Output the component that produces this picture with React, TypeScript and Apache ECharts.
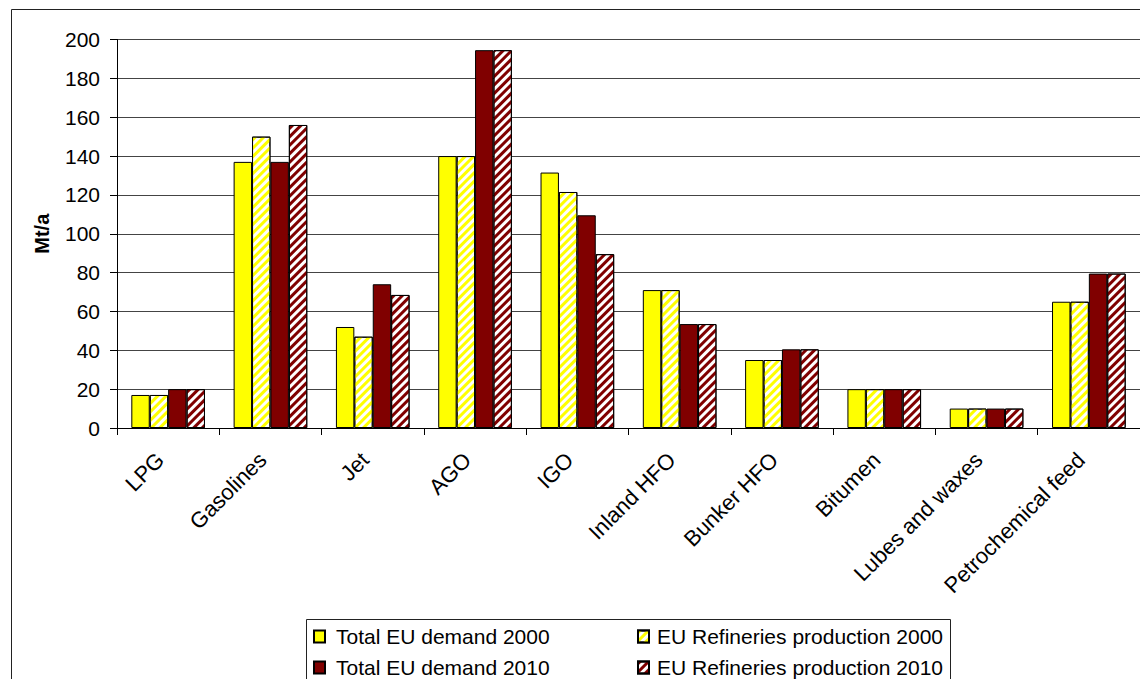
import React, { useEffect, useRef } from "react";
import * as echarts from "echarts";

// Products on the category axis
const categories = [
  "LPG",
  "Gasolines",
  "Jet",
  "AGO",
  "IGO",
  "Inland HFO",
  "Bunker HFO",
  "Bitumen",
  "Lubes and waxes",
  "Petrochemical feed",
];

// Volumes in Mt/a
const demand2000 = [17, 137, 52, 140, 131.5, 71, 35, 20, 10, 65];
const production2000 = [17, 150, 47, 140, 121.5, 71, 35, 20, 10, 65];
const demand2010 = [20, 137, 74, 194.5, 109.5, 53.5, 40.5, 20, 10, 79.5];
const production2010 = [20, 156, 68.5, 194.5, 89.5, 53.5, 40.5, 20, 10, 79.5];

const seriesNames = [
  "Total EU demand 2000",
  "EU Refineries production 2000",
  "Total EU demand 2010",
  "EU Refineries production 2010",
];

const YELLOW = "#FFFF00";
const MAROON = "#800000";
const FONT = "'Liberation Sans', Arial, sans-serif";

// Upward diagonal hatching on a white ground
const stripes = (color: string) => ({
  symbol: "rect",
  symbolSize: 1,
  color,
  backgroundColor: "#ffffff",
  dashArrayX: [1, 0],
  dashArrayY: [3, 3],
  rotation: -Math.PI / 4,
});

export default function App() {
  const ref = useRef<HTMLDivElement>(null);

  useEffect(() => {
    if (!ref.current) return;
    const chart = echarts.init(ref.current, undefined, { renderer: "svg" });

    const bar = (name: string, data: number[], color: string, striped: boolean) => ({
      name,
      type: "bar",
      data,
      barGap: "0%",
      barCategoryGap: "28%",
      itemStyle: {
        color: striped ? "#ffffff" : color,
        borderColor: "#000000",
        borderWidth: 1,
        ...(striped ? { decal: stripes(color) } : {}),
      },
    });

    const legendBase = {
      orient: "vertical",
      icon: "rect",
      padding: 0,
      itemWidth: 11,
      itemHeight: 12,
      itemGap: 10,
      top: 626,
      height: 80,
      textStyle: { fontFamily: FONT, fontSize: 21, color: "#000" },
    };

    chart.setOption({
      animation: false,
      backgroundColor: "#ffffff",
      grid: { left: 117, top: 39.5, width: 1027, height: 388.5, containLabel: false },
      xAxis: {
        type: "category",
        data: categories,
        axisLine: { lineStyle: { color: "#000", width: 1 } },
        axisTick: { show: true, length: 7, lineStyle: { color: "#000" } },
        axisLabel: {
          interval: 0,
          rotate: 45,
          margin: 36,
          verticalAlign: "bottom",
          fontFamily: FONT,
          fontSize: 22,
          color: "#000",
        },
      },
      yAxis: {
        type: "value",
        min: 0,
        max: 200,
        interval: 20,
        name: "Mt/a",
        nameLocation: "middle",
        nameRotate: 90,
        nameGap: 65,
        nameTextStyle: { fontFamily: FONT, fontSize: 20, fontWeight: "bold", color: "#000" },
        axisLine: { show: true, lineStyle: { color: "#000", width: 1 } },
        axisTick: { show: true, length: 7, lineStyle: { color: "#000" } },
        axisLabel: { margin: 17, fontFamily: FONT, fontSize: 21, color: "#000" },
        splitLine: { show: true, lineStyle: { color: "#444", width: 1 } },
      },
      legend: [
        {
          ...legendBase,
          left: 313,
          data: [seriesNames[0], seriesNames[2]],
          textStyle: { ...legendBase.textStyle, padding: [0, 0, 0, 6] },
        },
        {
          ...legendBase,
          left: 637,
          data: [seriesNames[1], seriesNames[3]],
          textStyle: { ...legendBase.textStyle, padding: [0, 0, 0, 3] },
        },
      ],
      graphic: [
        {
          type: "rect",
          shape: { x: 11.5, y: 9.5, width: 1200, height: 800 },
          style: { fill: "none", stroke: "#222", lineWidth: 1 },
          silent: true,
        },
        {
          type: "rect",
          shape: { x: 306.5, y: 619.5, width: 644, height: 90 },
          style: { fill: "none", stroke: "#222", lineWidth: 1 },
          silent: true,
        },
      ],
      series: [
        bar(seriesNames[0], demand2000, YELLOW, false),
        bar(seriesNames[1], production2000, YELLOW, true),
        bar(seriesNames[2], demand2010, MAROON, false),
        bar(seriesNames[3], production2010, MAROON, true),
      ],
    });

    return () => chart.dispose();
  }, []);

  return (
    <div
      ref={ref}
      style={{ position: "absolute", left: 0, top: 0, width: 1140, height: 679 }}
    />
  );
}
